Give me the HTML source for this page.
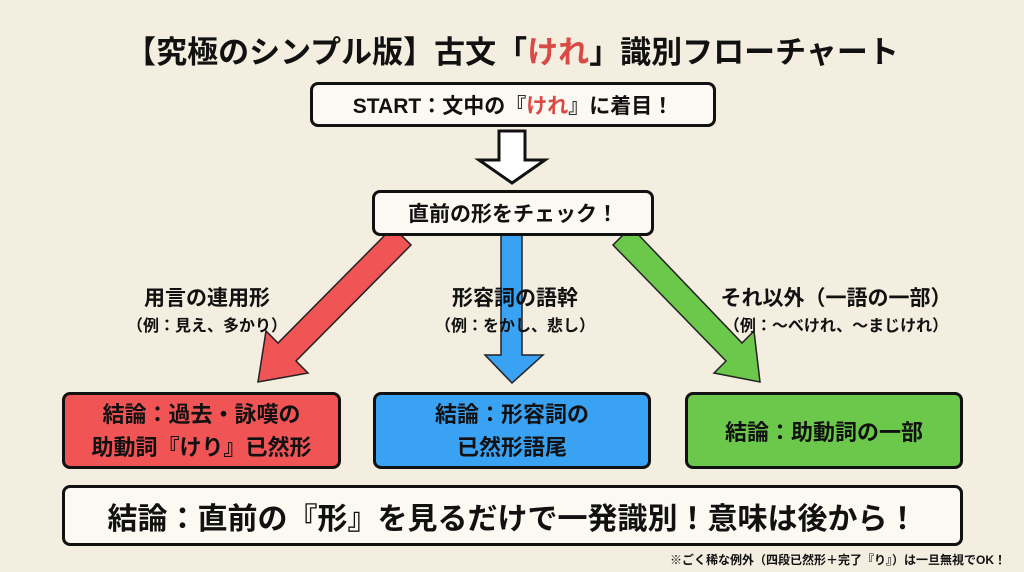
<!DOCTYPE html>
<html><head><meta charset="utf-8"><style>
body{margin:0;width:1024px;height:572px;background:#f4eee0;font-family:"Liberation Sans","Noto Sans CJK JP",sans-serif;font-weight:bold;color:#111;overflow:hidden;position:relative}
.a{position:absolute;box-sizing:border-box;display:flex;align-items:center;justify-content:center;text-align:center}
.box{border:3px solid #111;border-radius:8px}
.t{position:absolute;white-space:nowrap;transform:translateX(-50%)}
</style></head><body>
<div class="t" style="left:512px;top:27px;font-size:31px">【究極のシンプル版】古文「<span style="color:#d94a44">けれ</span>」識別フローチャート</div>
<div class="a box" style="left:310px;top:82px;width:406px;height:45px;background:#fbf9f2;font-size:21px">START：文中の『<span style="color:#d94a44">けれ</span>』に着目！</div>
<svg width="1024" height="572" style="position:absolute;left:0;top:0">
<polygon points="499,131 525,131 525,160 545,160 512,183 479,160 499,160" fill="#fff" stroke="#111" stroke-width="3"/>
<polygon points="393,227 411,245 296,361 308,373 258,382 266,331 278,343" fill="#f05454" stroke="#222" stroke-width="1.5"/>
<polygon points="501,233 522,233 522,355 543,355 512,383 485,355 501,355" fill="#3aa2f2" stroke="#222" stroke-width="1.5"/>
<polygon points="631,227 613,245 726,361 714,373 760,382 754,331 742,343" fill="#6cc84a" stroke="#222" stroke-width="1.5"/>
</svg>
<div class="a box" style="left:372px;top:190px;width:282px;height:46px;background:#fbf9f2;font-size:21px">直前の形をチェック！</div>
<div class="t" style="left:207px;top:282px;font-size:21px">用言の連用形</div>
<div class="t" style="left:207px;top:312px;font-size:16px">（例：見え、多かり）</div>
<div class="t" style="left:515px;top:282px;font-size:21px">形容詞の語幹</div>
<div class="t" style="left:515px;top:312px;font-size:16px">（例：をかし、悲し）</div>
<div class="t" style="left:836px;top:282px;font-size:21px">それ以外（一語の一部）</div>
<div class="t" style="left:836px;top:312px;font-size:16px">（例：～べけれ、～まじけれ）</div>
<div class="a box" style="left:62px;top:392px;width:279px;height:77px;background:#f05454;font-size:22px;line-height:33px">結論：過去・詠嘆の<br>助動詞『けり』已然形</div>
<div class="a box" style="left:373px;top:392px;width:278px;height:77px;background:#3aa2f2;font-size:22px;line-height:33px">結論：形容詞の<br>已然形語尾</div>
<div class="a box" style="left:685px;top:392px;width:278px;height:77px;background:#6cc84a;font-size:22px">結論：助動詞の一部</div>
<div class="a box" style="left:62px;top:485px;width:901px;height:61px;background:#fbf9f2;font-size:30px">結論：直前の『形』を見るだけで一発識別！意味は後から！</div>
<div style="position:absolute;right:18px;top:551px;font-size:12px;white-space:nowrap">※ごく稀な例外（四段已然形＋完了『り』）は一旦無視でOK！</div>
</body></html>
